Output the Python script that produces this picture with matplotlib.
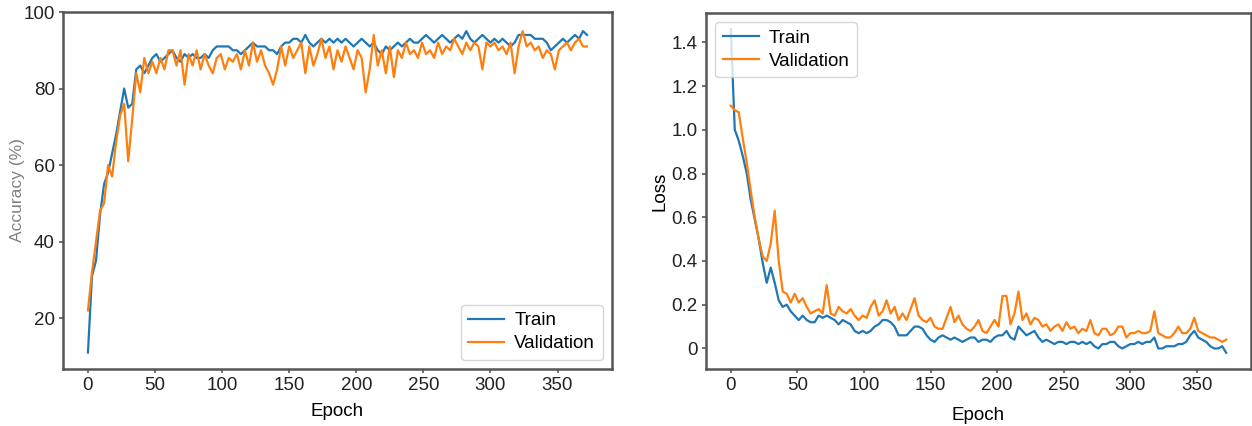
import numpy as np
import matplotlib
matplotlib.use("Agg")
import matplotlib.pyplot as plt

# training history, logged every 3 epochs
acc_train = [11, 31, 35, 47, 55, 58, 63, 68, 74, 80, 75, 76, 85, 86, 84, 86, 88, 89, 87, 88,
             89, 90, 88, 87, 89, 88, 89, 88, 88, 89, 88, 90, 91, 91, 91, 91, 90, 90, 89, 90,
             91, 92, 91, 91, 91, 90, 90, 89, 91, 92, 92, 93, 93, 92, 94, 92, 91, 92, 93, 92,
             93, 92, 93, 92, 93, 92, 91, 92, 93, 92, 91, 92, 90, 89, 91, 90, 91, 92, 91, 92,
             93, 92, 92, 93, 94, 93, 92, 93, 94, 93, 92, 93, 94, 93, 95, 93, 92, 93, 94, 93,
             92, 93, 92, 93, 92, 91, 92, 94, 94, 94, 94, 93, 93, 93, 92, 90, 91, 92, 93, 92,
             93, 94, 93, 95, 94]
acc_val = [22, 32, 40, 48, 50, 60, 57, 66, 73, 76, 61, 72, 84, 79, 88, 84, 87, 84, 88, 85,
           90, 90, 86, 90, 81, 89, 86, 90, 85, 89, 86, 84, 88, 89, 85, 88, 87, 89, 85, 90,
           86, 92, 87, 90, 86, 84, 81, 85, 91, 86, 91, 88, 90, 92, 84, 91, 86, 89, 93, 88,
           91, 85, 90, 87, 91, 88, 85, 90, 88, 79, 85, 94, 86, 90, 84, 91, 83, 90, 88, 92,
           89, 90, 88, 92, 89, 90, 88, 92, 89, 91, 90, 93, 91, 89, 92, 90, 92, 91, 85, 92,
           91, 92, 90, 91, 89, 92, 84, 91, 95, 91, 92, 90, 91, 88, 90, 89, 85, 90, 91, 92,
           90, 92, 93, 91, 91]

loss_train = [1.46, 1.00, 0.95, 0.88, 0.80, 0.68, 0.59, 0.50, 0.39, 0.30, 0.37, 0.30, 0.22,
              0.19, 0.20, 0.17, 0.15, 0.13, 0.15, 0.13, 0.12, 0.12, 0.15, 0.14, 0.15, 0.14,
              0.13, 0.11, 0.13, 0.12, 0.11, 0.08, 0.07, 0.08, 0.07, 0.08, 0.10, 0.11, 0.13,
              0.13, 0.12, 0.10, 0.06, 0.06, 0.06, 0.08, 0.10, 0.10, 0.09, 0.06, 0.04, 0.03,
              0.05, 0.06, 0.05, 0.04, 0.05, 0.04, 0.03, 0.04, 0.05, 0.05, 0.03, 0.04, 0.04,
              0.03, 0.05, 0.06, 0.06, 0.08, 0.05, 0.04, 0.10, 0.08, 0.06, 0.07, 0.08, 0.05,
              0.03, 0.04, 0.03, 0.02, 0.03, 0.03, 0.02, 0.03, 0.03, 0.02, 0.03, 0.02, 0.03,
              0.01, 0.00, 0.02, 0.02, 0.03, 0.03, 0.01, 0.00, 0.01, 0.02, 0.02, 0.03, 0.02,
              0.03, 0.03, 0.05, 0.00, 0.00, 0.01, 0.01, 0.01, 0.02, 0.02, 0.03, 0.06, 0.08,
              0.05, 0.04, 0.03, 0.01, 0.00, 0.00, 0.01, -0.02]
loss_val = [1.11, 1.09, 1.08, 0.96, 0.85, 0.72, 0.60, 0.50, 0.42, 0.40, 0.48, 0.63, 0.40,
            0.26, 0.25, 0.21, 0.25, 0.21, 0.23, 0.19, 0.16, 0.17, 0.18, 0.16, 0.29, 0.16,
            0.15, 0.19, 0.17, 0.16, 0.18, 0.15, 0.13, 0.15, 0.14, 0.19, 0.22, 0.15, 0.17,
            0.22, 0.16, 0.19, 0.13, 0.16, 0.13, 0.18, 0.23, 0.15, 0.13, 0.12, 0.14, 0.10,
            0.09, 0.09, 0.14, 0.19, 0.12, 0.15, 0.11, 0.09, 0.08, 0.10, 0.13, 0.08, 0.07,
            0.10, 0.13, 0.10, 0.24, 0.24, 0.11, 0.16, 0.26, 0.13, 0.16, 0.11, 0.14, 0.13,
            0.10, 0.11, 0.08, 0.10, 0.11, 0.08, 0.12, 0.09, 0.10, 0.07, 0.09, 0.08, 0.13,
            0.07, 0.06, 0.09, 0.09, 0.06, 0.07, 0.10, 0.10, 0.05, 0.07, 0.07, 0.08, 0.07,
            0.07, 0.08, 0.17, 0.07, 0.06, 0.05, 0.05, 0.07, 0.10, 0.07, 0.07, 0.09, 0.14,
            0.08, 0.07, 0.06, 0.05, 0.05, 0.04, 0.03, 0.04]

epochs = np.arange(len(acc_train)) * 3

epoch_ticks = [0, 50, 100, 150, 200, 250, 300, 350]
acc_ticks = [20, 40, 60, 80, 100]
loss_ticks = [0, 0.2, 0.4, 0.6, 0.8, 1.0, 1.2, 1.4]
loss_labels = ["0", "0.2", "0.4", "0.6", "0.8", "1.0", "1.2", "1.4"]

plt.rcParams["font.family"] = ["Liberation Sans", "DejaVu Sans"]
plt.rcParams["font.size"] = 13.5

W, H = 1252, 426
fig = plt.figure(figsize=(W / 100, H / 100), dpi=100)
ax1 = fig.add_axes([63 / W, 57 / H, 549 / W, 357 / H])
ax2 = fig.add_axes([706 / W, 57 / H, 545 / W, 356 / H])


def style(ax):
    for sp in ax.spines.values():
        sp.set_color("#555555")
        sp.set_linewidth(1.8)
    ax.tick_params(direction="out", length=3, width=1.2, color="#555555",
                   labelcolor="#222222", labelsize=13.5, pad=3)
    ax.set_xticks(epoch_ticks)


legend_kw = dict(fontsize=13.5, handlelength=1.9, handletextpad=0.55, borderpad=0.4,
                 labelspacing=0.3, framealpha=0.8, edgecolor="#cccccc")

ax1.plot(epochs, acc_train, color="#1f77b4", lw=1.6, label="Train")
ax1.plot(epochs, acc_val, color="#ff7f0e", lw=1.6, label="Validation")
style(ax1)
ax1.set_ylim(6.7, 100)
ax1.set_yticks(acc_ticks)
ax1.set_xlabel("Epoch", fontsize=13.5, labelpad=6)
ax1.set_ylabel("Accuracy (%)", fontsize=12.5, color="#808080", labelpad=-1)
ax1.legend(loc="lower right", **legend_kw)

ax2.plot(epochs, loss_train, color="#1f77b4", lw=1.6, label="Train")
ax2.plot(epochs, loss_val, color="#ff7f0e", lw=1.6, label="Validation")
style(ax2)
ax2.set_yticks(loss_ticks)
ax2.set_yticklabels(loss_labels)
ax2.set_xlabel("Epoch", fontsize=13.5, labelpad=9)
ax2.set_ylabel("Loss", fontsize=13.5, labelpad=2)
ax2.legend(loc="upper left", **legend_kw)

fig.savefig("out.png", dpi=100)
